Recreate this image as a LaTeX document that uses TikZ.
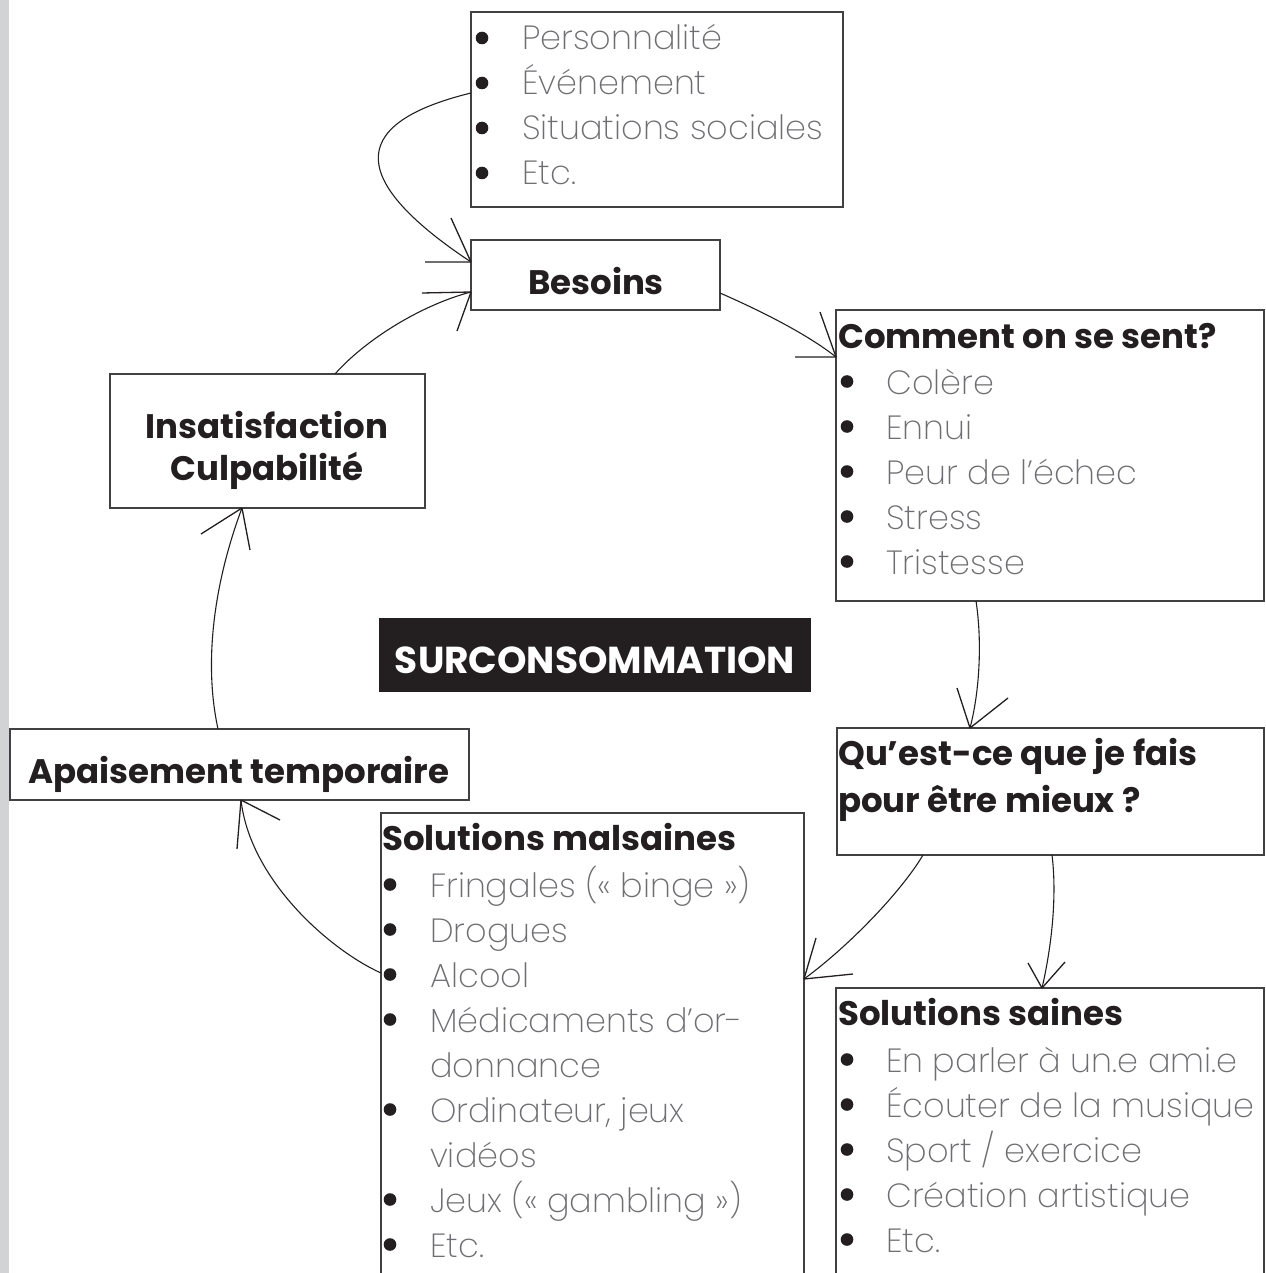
\documentclass[tikz,border=0pt]{standalone}
\usepackage{fontspec}
\setmainfont{Poppins}
\newfontfamily\lightf{Poppins ExtraLight}
\newfontfamily\boldf{Poppins Bold}
\usetikzlibrary{calc}
\definecolor{ink}{HTML}{231F20}
\definecolor{itemgray}{HTML}{6D6E71}
\definecolor{boxline}{HTML}{414042}
\definecolor{strip}{HTML}{D1D3D4}
\begin{document}
\begin{tikzpicture}[x=1pt,y=1pt,
  box/.style={draw=boxline, line width=1.4pt, rectangle, anchor=north west, inner sep=0pt, outer sep=0pt},
  head/.style={font=\boldf\fontsize{34}{40}\selectfont, text=ink, inner sep=0pt},
  itemtxt/.style={font=\lightf\fontsize{33.5}{40}\selectfont, text=itemgray, inner sep=0pt, anchor=base west},
  conn/.style={draw=ink, line width=1.1pt},
  barb/.style={draw=ink, line width=1.3pt},
  bul/.style={fill=ink}
  ]
\useasboundingbox (0,0) rectangle (1265,-1273);
\clip (0,0) rectangle (1265,-1273);
\fill[white] (0,0) rectangle (1265,-1273);
\fill[strip] (0,0) rectangle (9,-1273);

% boxes
\node[box, minimum width=372pt, minimum height=195pt] (causes) at (471,-12) {};
\node[box, minimum width=249pt, minimum height=70pt] (besoins) at (471,-240) {};
\node[box, minimum width=428pt, minimum height=291pt] (comment) at (836,-310) {};
\node[box, fill=ink, draw=ink, minimum width=430pt, minimum height=72pt] (surco) at (380,-619) {};
\node[box, minimum width=315pt, minimum height=134pt] (insat) at (110,-374) {};
\node[box, minimum width=459pt, minimum height=71pt] (apais) at (10,-729) {};
\node[box, minimum width=427pt, minimum height=127pt] (quest) at (837,-728) {};
\node[box, minimum width=423pt, minimum height=480pt] (mal) at (381,-813) {};
\node[box, minimum width=428pt, minimum height=300pt] (saines) at (836,-988) {};

% causes list
\node[itemtxt] (c1) at (522,-50) {Personnalité};
\node[itemtxt] (c2) at (522,-95) {Événement};
\node[itemtxt] (c3) at (522,-140) {Situations sociales};
\node[itemtxt] (c4) at (522,-185) {Etc.};
\foreach \yy in {38,83,128,173} \fill[bul] (482,-\yy) circle (6.3);

% besoins
\node[head, anchor=base] (besoinsT) at (596,-294) {Besoins};

% comment on se sent
\node[head, anchor=base west] (commentT) at (838,-348) {Comment on se sent?};
\node[itemtxt] (s1) at (886,-394) {Colère};
\node[itemtxt] (s2) at (886,-439) {Ennui};
\node[itemtxt] (s3) at (886,-484) {Peur de l’échec};
\node[itemtxt] (s4) at (886,-529) {Stress};
\node[itemtxt] (s5) at (886,-574) {Tristesse};
\foreach \yy in {381.5,426.5,471.5,516.5,561.5} \fill[bul] (847,-\yy) circle (6.3);

% surconsommation
\node[head, anchor=base, text=white, font=\boldf\fontsize{37.5}{40}\selectfont] (surcoT) at (595,-673) {SURCONSOMMATION};

% insatisfaction
\node[head, anchor=base] (insatT1) at (267,-438) {Insatisfaction};
\node[head, anchor=base] (insatT2) at (267,-480) {Culpabilité};

% apaisement
\node[head, anchor=base] (apaisT) at (239,-783) {Apaisement temporaire};

% qu'est-ce
\node[head, anchor=base west] (questT1) at (838,-765) {Qu’est-ce que je fais};
\node[head, anchor=base west] (questT2) at (838,-812) {pour être mieux ?};

% solutions malsaines
\node[head, anchor=base west] (malT) at (382,-850) {Solutions malsaines};
\node[itemtxt] (m1) at (430,-897) {Fringales (« binge »)};
\node[itemtxt] (m2) at (430,-942) {Drogues};
\node[itemtxt] (m3) at (430,-987) {Alcool};
\node[itemtxt] (m4) at (430,-1032) {Médicaments d’or-};
\node[itemtxt] (m5) at (430,-1077) {donnance};
\node[itemtxt] (m6) at (430,-1122) {Ordinateur, jeux};
\node[itemtxt] (m7) at (430,-1167) {vidéos};
\node[itemtxt] (m8) at (430,-1212) {Jeux (« gambling »)};
\node[itemtxt] (m9) at (430,-1257) {Etc.};
\foreach \yy in {884.5,929.5,974.5,1019.5,1109.5,1199.5,1244.5} \fill[bul] (390,-\yy) circle (6.3);

% solutions saines
\node[head, anchor=base west] (sainT) at (838,-1025) {Solutions saines};
\node[itemtxt] (h1) at (886,-1072) {En parler à un.e ami.e};
\node[itemtxt] (h2) at (886,-1117) {Écouter de la musique};
\node[itemtxt] (h3) at (886,-1162) {Sport / exercice};
\node[itemtxt] (h4) at (886,-1207) {Création artistique};
\node[itemtxt] (h5) at (886,-1252) {Etc.};
\foreach \yy in {1059.5,1104.5,1149.5,1194.5,1239.5} \fill[bul] (847,-\yy) circle (6.3);

% connectors
% A: causes -> besoins
\draw[conn] ([yshift=16.5pt]causes.west) .. controls (340,-125) and (355,-185) .. ([yshift=-22pt]besoins.north west) coordinate (tA);
\draw[barb] (tA) -- ++(-20,44) (tA) -- ++(-46,0);
% B: besoins -> comment
\draw[conn] ([yshift=-18pt]besoins.east) .. controls (761,-311) and (807,-334) .. ([yshift=-47pt]comment.north west) coordinate (tB);
\draw[barb] (tB) -- ++(-16,45) (tB) -- ++(-41,0);
% C: comment -> quest
\draw[conn] ([xshift=-74pt]comment.south) .. controls (982,-640) and (980,-690) .. ([xshift=-80.5pt]quest.north) coordinate (tC);
\draw[barb] (tC) -- ++(-13,40) (tC) -- ++(38,30);
% D: quest -> malsaines
\draw[conn] ([xshift=-127.5pt]quest.south) .. controls (901,-892) and (849,-946) .. ([yshift=-166pt]mal.north east) coordinate (tD);
\draw[barb] (tD) -- ++(12,41) (tD) -- ++(49,5);
% E: quest -> saines
\draw[conn] ([xshift=1.5pt]quest.south) .. controls (1057,-895) and (1052,-945) .. ([xshift=-8pt]saines.north) coordinate (tE);
\draw[barb] (tE) -- ++(-14,25) (tE) -- ++(23,26);
% F: malsaines -> apaisement
\draw[conn] ([yshift=-160pt]mal.north west) .. controls (330,-950) and (250,-880) .. ([xshift=231pt]apais.south west) coordinate (tF);
\draw[barb] (tF) -- ++(-4,-49) (tF) -- ++(39,-20);
% G: apaisement -> insatisfaction
\draw[conn] ([xshift=208pt]apais.north west) .. controls (203,-660) and (215,-580) .. ([xshift=132pt]insat.south west) coordinate (tG);
\draw[barb] (tG) -- ++(-41,-26) (tG) -- ++(8,-42);
% H: insatisfaction -> besoins
\draw[conn] ([xshift=225pt]insat.north west) .. controls (365,-340) and (421,-305) .. ([yshift=-52pt]besoins.north west) coordinate (tH);
\draw[barb] (tH) -- ++(-49,-1) (tH) -- ++(-14,-39);
\end{tikzpicture}
\end{document}
